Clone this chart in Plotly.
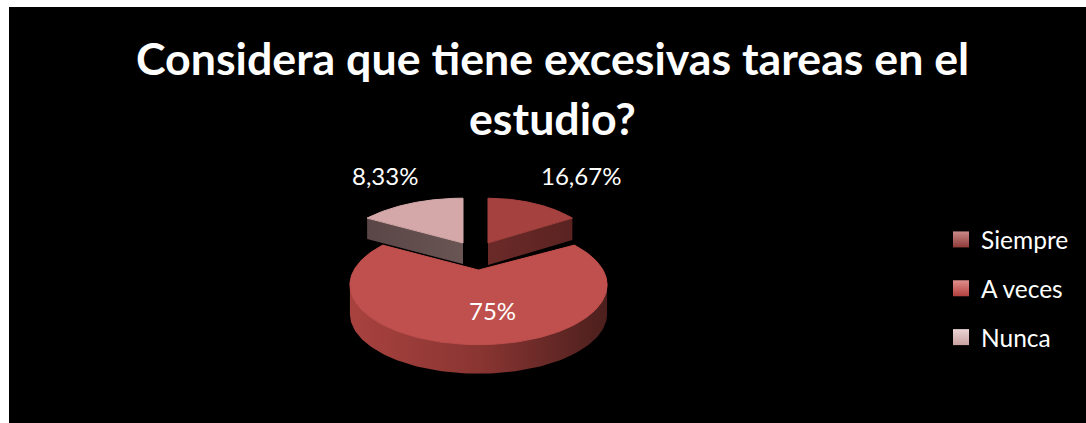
import numpy as np
import plotly.graph_objects as go

# ---- data ----
TITLE_LINES = ["Considera que tiene excesivas tareas en el", "estudio?"]
categories = ["Siempre", "A veces", "Nunca"]
drawn_shares = [16.67, 66.66, 16.67]          # slice sizes as the picture draws them
value_labels = ["16,67%", "75%", "8,33%"]     # labels as printed on the chart

# ---- styles ----
FONT = "Lato"
top_colors = ["#a5423f", "#c0504d", "#d4a8a8"]
wall_stops = [["#6b2a28", "#5a2321"], ["#a8423f", "#8a3532", "#4b1f1d"], ["#5a4646", "#6a5555"]]
swatch_top = ["#c98a88", "#e08f8c", "#ecd6d6"]
swatch_low = ["#8f3a38", "#b0403e", "#c9a0a0"]

# ---- projection of the tilted pie into the pixel-sized axes ----
CX, CY, RX, RY, PERSP = 478.5, 270, 124.5, 56, 0.25
# per slice: x/y offset of the apex, x scale, wall depth
placement = [(9.5, -27, 0.88, 22), (0, 0, 1.0, 29), (-15.5, -27, 1.0, 21)]


def rim(theta, sx=1.0):
    t = np.radians(theta)
    s = 1 / (1 + PERSP * np.cos(t))
    return RX * sx * np.sin(t) * s, -RY * np.cos(t) * s


fig = go.Figure()
edges = np.concatenate([[0], np.cumsum(drawn_shares)]) / sum(drawn_shares) * 360


def gradient(cols):
    n = len(cols) - 1
    return dict(type="horizontal", colorscale=[[i / n, c] for i, c in enumerate(cols)])


for i, cat in enumerate(categories):
    a0, a1 = edges[i], edges[i + 1]
    dx, dy, sx, depth = placement[i]
    th = np.linspace(a0, a1, 160)
    rx_, ry_ = rim(th, sx)
    ax, ay = CX + dx, CY + dy
    px, py = ax + rx_, ay + ry_
    # outer wall
    if i == 1:
        vis = (th >= 104) & (th <= 256)
        wx = np.concatenate([px[vis], px[vis][::-1]])
        wy = np.concatenate([py[vis], py[vis][::-1] + depth])
    elif i == 0:
        wx = [ax, px[-1], px[-1], ax]
        wy = [ay, py[-1], py[-1] + depth, ay + depth]
    else:
        wx = [ax, px[0], px[0], ax]
        wy = [ay, py[0], py[0] + depth, ay + depth]
    fig.add_trace(go.Scatter(x=list(wx), y=list(wy), mode="lines", fill="toself",
                             line=dict(width=0), fillgradient=gradient(wall_stops[i]),
                             showlegend=False, hoverinfo="skip"))
    # top face
    fx = np.concatenate([[ax], px, [ax]])
    fy = np.concatenate([[ay], py, [ay]])
    fig.add_trace(go.Scatter(x=fx, y=fy, mode="lines", fill="toself", fillcolor=top_colors[i],
                             line=dict(width=1, color=top_colors[i]), showlegend=False,
                             name=cat, hoverinfo="name"))

# legend entries
for i, cat in enumerate(categories):
    fig.add_trace(go.Scatter(x=[None], y=[None], mode="markers", name=cat, legendgroup=cat,
                             marker=dict(symbol="square", size=16, color=swatch_top[i],
                                         gradient=dict(type="vertical", color=swatch_low[i]))))

label_pos = [(581, 175.5), (492, 310), (385, 175.5)]
annotations = [dict(x=x, y=y, xref="x", yref="y", text=t, showarrow=False,
                    font=dict(family=FONT, size=24, color="white"))
               for (x, y), t in zip(label_pos, value_labels)]
for line, y in zip(TITLE_LINES, (58, 117.5)):
    annotations.append(dict(x=552, y=y, xref="x", yref="y", text="<b>%s</b>" % line, showarrow=False,
                            font=dict(family=FONT, size=44.7, color="white")))

fig.update_layout(
    width=1086, height=423, autosize=False,
    margin=dict(l=0, r=0, t=0, b=0),
    paper_bgcolor="white", plot_bgcolor="black",
    xaxis=dict(domain=[9 / 1086, 1], range=[9, 1086], visible=False, fixedrange=True),
    yaxis=dict(domain=[0, 1 - 7 / 423], range=[423, 7], visible=False, fixedrange=True),
    legend=dict(x=941 / 1086, xanchor="left", y=1 - 217 / 423, yanchor="top",
                bgcolor="rgba(0,0,0,0)", tracegroupgap=14,
                font=dict(family=FONT, size=24.5, color="white")),
    annotations=annotations,
)
fig.write_html("out.html", config=dict(displayModeBar=False),
               post_script="document.body.style.margin='0';document.documentElement.style.overflow='hidden';")
